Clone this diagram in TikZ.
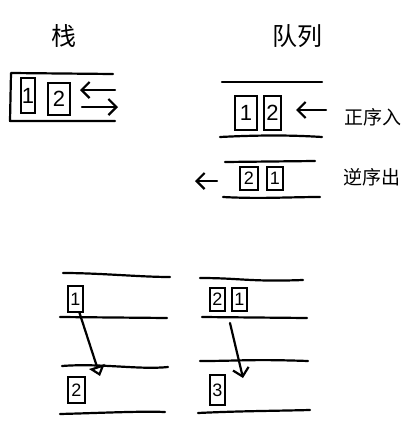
\documentclass[tikz,border=0pt]{standalone}
\usepackage{fontspec}
\setmainfont{Liberation Sans}
\newfontfamily\cjk{Noto Sans CJK SC}
\usetikzlibrary{arrows.meta}
\tikzset{
  pen/.style={line width=2.2pt, line cap=round, line join=round},
  numbox/.style={draw, line width=1.8pt, inner sep=0pt, font=\fontsize{18}{18}\selectfont},
  bignum/.style={font=\fontsize{22}{22}\selectfont},
  title/.style={font=\cjk\fontsize{25}{25}\selectfont, inner sep=0pt},
  label/.style={font=\cjk\fontsize{19}{19}\selectfont, inner sep=0pt},
  barb/.style={-{Straight Barb[length=8pt,width=16pt]}},
  tri/.style={-{Triangle[open,length=10pt,width=16pt]}}
}
\begin{document}
\begin{tikzpicture}[x=1pt,y=-1pt]
\useasboundingbox[fill=white] (0,0) rectangle (416,434);

% ---- Stack ----
\node[title] (stacktitle) at (64,36) {栈};
\draw[pen] (113,74) -- (11,73) -- (10,121) -- (115,121);
\node[numbox, bignum, minimum width=14pt, minimum height=35pt] (s1) at (28,95.5) {1};
\node[numbox, bignum, minimum width=22pt, minimum height=32pt] (s2) at (59,99) {2};
\coordinate (sinA) at (115,90);
\coordinate (sinB) at (80,90);
\coordinate (soutA) at (82,107);
\coordinate (soutB) at (118,107);
\draw[pen,barb] (sinA) -- (sinB);
\draw[pen,barb] (soutA) -- (soutB);

% ---- Queue ----
\node[title] (queuetitle) at (297,36) {队列};
\draw[pen] (222,82) -- (322,82);
\draw[pen] (220,137) .. controls (260,135) and (290,135) .. (322,137);
\node[numbox, bignum, minimum width=22pt, minimum height=34pt] (q1) at (246,113) {1};
\node[numbox, bignum, minimum width=17pt, minimum height=34pt] (q2) at (272.5,113) {2};
\coordinate (qinA) at (326,110);
\coordinate (qinB) at (296,110);
\draw[pen,barb] (qinA) -- (qinB);
\node[label] (enq) at (373,117) {正序入};

\draw[pen] (225,162) -- (315,161);
\draw[pen] (223,197) .. controls (260,199) and (290,197) .. (320,197);
\node[numbox, minimum width=18pt, minimum height=23pt] (r2) at (249,178.5) {2};
\node[numbox, minimum width=16pt, minimum height=23pt] (r1) at (275,178.5) {1};
\coordinate (qoutA) at (217,181);
\coordinate (qoutB) at (195,181);
\draw[pen,barb] (qoutA) -- (qoutB);
\node[label] (deq) at (372,177) {逆序出};

% ---- Bottom left ----
\draw[pen] (63,273) .. controls (100,273) and (140,277) .. (170,277);
\draw[pen] (60,317) -- (167,318);
\draw[pen] (62,366) .. controls (100,363) and (140,370) .. (168,367);
\draw[pen] (60,414) .. controls (100,413) and (140,411) .. (165,412);
\node[numbox, minimum width=15pt, minimum height=26pt] (b1) at (75.5,299) {1};
\node[numbox, minimum width=17pt, minimum height=26pt] (b2) at (76.5,390) {2};
\coordinate (ba) at (100,376);
\draw[pen,tri] (b1.south) ++(4,0) coordinate (bs) (bs) -- (ba);

% ---- Bottom right ----
\draw[pen] (200,278) .. controls (240,278) and (250,282) .. (303,280);
\draw[pen] (202,317) -- (307,318);
\draw[pen] (200,361) .. controls (240,361) and (250,359) .. (308,361);
\draw[pen] (198,413) .. controls (240,411) and (270,411) .. (310,410);
\node[numbox, minimum width=15pt, minimum height=23pt] (c2) at (217.5,299.5) {2};
\node[numbox, minimum width=15pt, minimum height=23pt] (c1) at (239.5,299.5) {1};
\node[numbox, minimum width=15pt, minimum height=30pt] (c3) at (217.5,390) {3};
\coordinate (cA) at (230,323);
\coordinate (cB) at (243,378);
\draw[pen,barb] (cA) -- (cB);
\end{tikzpicture}
\end{document}
